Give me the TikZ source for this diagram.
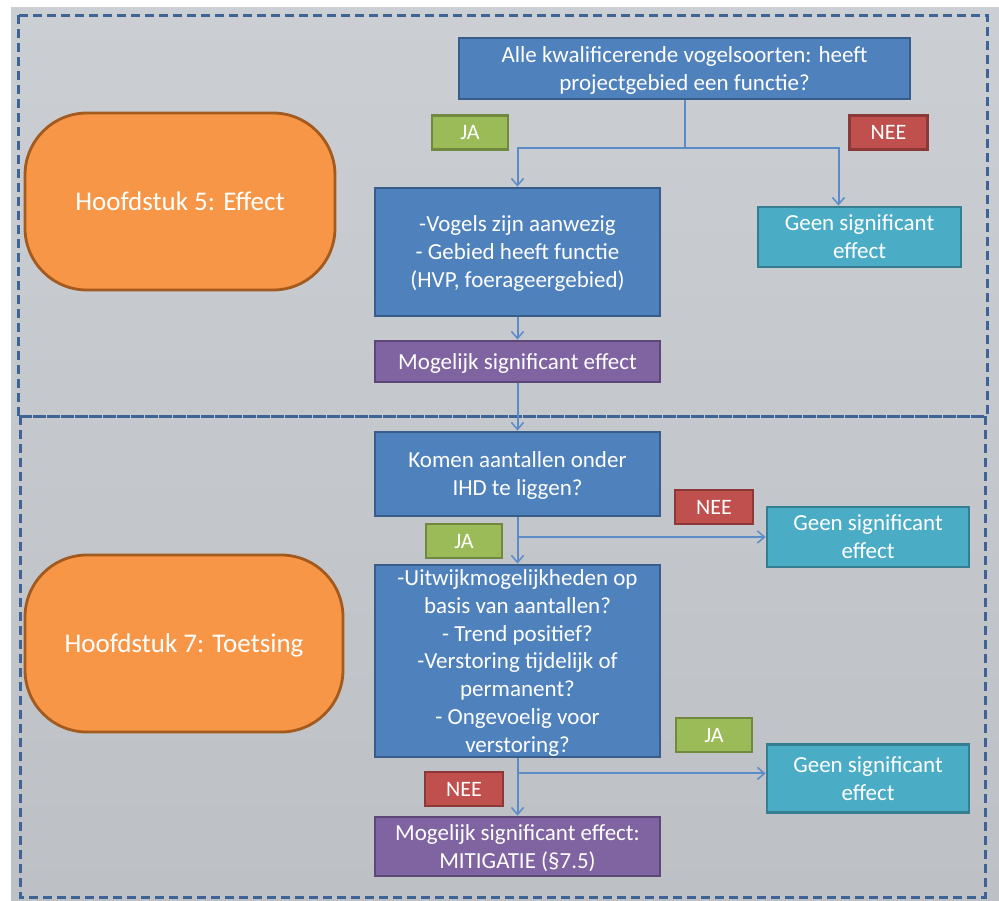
\documentclass[tikz,border=0pt]{standalone}
\usepackage{fontspec}
\setmainfont{Carlito}
\usetikzlibrary{arrows.meta,calc}
\definecolor{bgtop}{HTML}{CBCED3}
\definecolor{bgbot}{HTML}{BDC0C5}
\definecolor{dashc}{HTML}{3D6494}
\definecolor{bluef}{HTML}{4F81BD}
\definecolor{bluel}{HTML}{385D8A}
\definecolor{cyanf}{HTML}{4BACC6}
\definecolor{cyanl}{HTML}{357D91}
\definecolor{purf}{HTML}{8064A2}
\definecolor{purl}{HTML}{5C4776}
\definecolor{grnf}{HTML}{9BBB59}
\definecolor{grnl}{HTML}{71893F}
\definecolor{redf}{HTML}{C0504D}
\definecolor{redl}{HTML}{8C3836}
\definecolor{orf}{HTML}{F79646}
\definecolor{orl}{HTML}{A35A1E}
\definecolor{connc}{HTML}{5B8CC8}
\tikzset{
  boxbase/.style={draw, line width=2.8pt, text=white, align=center, inner sep=1pt, text depth=0pt, font=\fontsize{23}{28}\selectfont},
  bluebox/.style={boxbase, fill=bluef, draw=bluel},
  cyanbox/.style={boxbase, fill=cyanf, draw=cyanl},
  purbox/.style={boxbase, fill=purf, draw=purl},
  jabox/.style={boxbase, fill=grnf, draw=grnl, minimum width=76pt, minimum height=34pt, font=\fontsize{22}{24}\selectfont},
  neebox/.style={boxbase, fill=redf, draw=redl, minimum width=78pt, minimum height=34pt, font=\fontsize{22}{24}\selectfont},
  chapbox/.style={boxbase, fill=orf, draw=orl, rounded corners=62pt, font=\fontsize{27}{30}\selectfont},
  sect/.style={draw=dashc, line width=3pt, dash pattern=on 9pt off 5pt},
  conn/.style={draw=connc, line width=2pt, -{Straight Barb[length=7pt,width=12pt,line width=1.5pt]}},
  connl/.style={draw=connc, line width=2pt}
}
\begin{document}
\begin{tikzpicture}[x=1pt,y=-1pt]
\useasboundingbox (0,0) rectangle (999,900);
\shade[top color=bgtop, bottom color=bgbot] (11,7) rectangle (999,900);
\draw[sect] (18,15) rectangle (987,416);
\draw[sect] (20,416) rectangle (985,897);

% chapters
\node[chapbox, minimum width=310pt, minimum height=177pt] (h5) at (180,201.5) {Hoofdstuk 5: Effect};
\node[chapbox, minimum width=318pt, minimum height=177pt] (h7) at (184,643.5) {Hoofdstuk 7: Toetsing};

% top part
\node[bluebox, minimum width=451pt, minimum height=61pt] (q1) at (684.5,68.5) {Alle kwalificerende vogelsoorten: heeft\\projectgebied een functie?};
\node[jabox] (ja1) at (470,132.5) {JA};
\node[neebox] (nee1) at (888.5,132.5) {NEE};
\node[bluebox, minimum width=285pt, minimum height=128pt] (b2) at (517.5,252) {-Vogels zijn aanwezig\\- Gebied heeft functie\\(HVP, foerageergebied)};
\node[cyanbox, minimum width=203pt, minimum height=60pt] (c1) at (859.5,237) {Geen significant\\effect};
\node[purbox, minimum width=285pt, minimum height=41pt] (p1) at (517.5,361.5) {Mogelijk significant effect};

% bottom part
\node[bluebox, minimum width=285pt, minimum height=84pt] (b3) at (517.5,474) {Komen aantallen onder\\IHD te liggen?};
\node[neebox] (nee2) at (714,507) {NEE};
\node[cyanbox, minimum width=202pt, minimum height=60pt] (c2) at (868,537) {Geen significant\\effect};
\node[jabox] (ja2) at (464,541) {JA};
\node[bluebox, minimum width=285pt, minimum height=192pt, font=\fontsize{23}{27.8}\selectfont] (b4) at (517.5,661) {-Uitwijkmogelijkheden op\\basis van aantallen?\\- Trend positief?\\-Verstoring tijdelijk of\\permanent?\\- Ongevoelig voor\\verstoring?};
\node[jabox] (ja3) at (714,735) {JA};
\node[cyanbox, minimum width=202pt, minimum height=68pt] (c3) at (868,778.5) {Geen significant\\effect};
\node[neebox] (nee3) at (464,789) {NEE};
\node[purbox, minimum width=285pt, minimum height=59pt] (p2) at (517.5,846.5) {Mogelijk significant effect:\\MITIGATIE (§7.5)};

% connectors
\coordinate (j1) at ($(q1.south)+(0,48)$);
\draw[connl] (q1.south) -- (j1);
\draw[conn] (j1) -| (b2.north);
\draw[conn] (j1) -| ([xshift=-21pt]c1.north);
\draw[conn] (b2.south) -- (p1.north);
\draw[conn] (p1.south) -- (b3.north);
\draw[conn] (b3.south) -- (b4.north);
\coordinate (j2) at (b3.south |- c2.west);
\draw[conn] (j2) -- (c2.west);
\coordinate (j3) at ($(b4.south)+(0,15)$);
\draw[conn] (b4.south) -- (p2.north);
\draw[conn] (j3) -- (j3 -| c3.west);
\end{tikzpicture}
\end{document}
